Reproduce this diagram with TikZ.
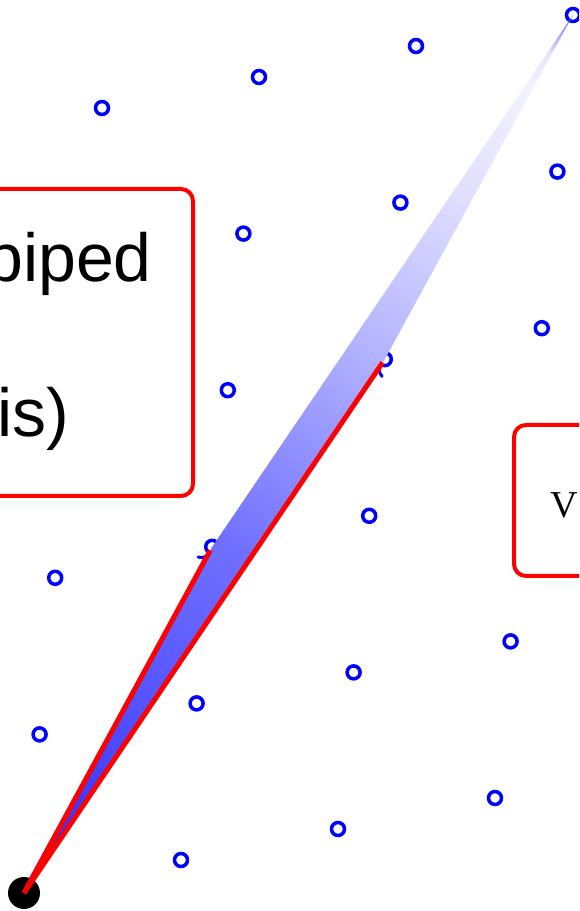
\documentclass[tikz,border=0pt]{standalone}
\usepackage{fontspec}
\newfontfamily\boxsans{Liberation Sans}
\newfontfamily\boxserif{Liberation Serif}
\usetikzlibrary{calc, arrows.meta}

% Colour ramp of the fundamental cell
\pgfdeclareverticalshading{cellShade}{100bp}{%
    color(0bp)=(blue!85); color(25bp)=(blue!85); color(35bp)=(blue!68);
    color(44.5bp)=(blue!56); color(56bp)=(blue!30); color(65bp)=(blue!12);
    color(71bp)=(blue!5); color(72.8bp)=(blue!10); color(75bp)=(blue!60);
    color(100bp)=(blue!60)}

\begin{document}
\begin{tikzpicture}[x=1pt, y=1pt]
    % Define colours
    \definecolor{pointColour}{HTML}{0000FF}
    \definecolor{basisColour}{HTML}{FF0000}
    \definecolor{boxColour}{HTML}{FF0000}

    % Define styles
    \tikzset{
        latpt/.style={circle, draw=pointColour, line width=3.5pt, minimum size=13pt, inner sep=0pt},
        vecArrow/.style={draw=pointColour, line width=3pt, -{To[length=9pt, width=18pt]}},
        basisVec/.style={draw=basisColour, line width=5pt},
        labelBox/.style={draw=boxColour, line width=4pt, rounded corners=12pt, fill=white, outer sep=0pt}
    }

    % Fix picture size
    \useasboundingbox (0,0) rectangle (579,911);
    \clip (0,0) rectangle (579,911);

    % Draw lattice points
    \begin{scope}[shift={(24,20)}, x={(157pt,31pt)}, y={(15.6pt,156.6pt)}]
        \coordinate (O) at (0,0);
        \coordinate (B1) at (1,2);
        \coordinate (B2) at (2,3);
        \coordinate (T) at (3,5);
        \foreach \a in {0,...,3}
            \foreach \b in {0,...,5}
            {
                \ifnum\a\b>0 \node[latpt] (p\a\b) at (\a,\b) {}; \fi
            }
    \end{scope}

    % Draw basis arrows
    \draw[vecArrow] (O) -- (p12);
    \draw[vecArrow] (O) -- (p23);

    % Shade the fundamental cell
    \coordinate (mid) at ($(O)!0.5!(T)$);
    \begin{scope}
        \clip (O) -- (B1) -- (T) -- (B2) -- cycle;
        \shade[shading=cellShade, shading angle=-32.05] ($(mid)+(-518,-518)$) rectangle ($(mid)+(518,518)$);
    \end{scope}

    % Draw origin and basis vectors
    \node[circle, fill=black, minimum size=32pt, inner sep=0pt] (origin) at ($(O)+(0,-2)$) {};
    \draw[basisVec, shorten >=4pt] (origin.center) -- (p12.center);
    \draw[basisVec, shorten >=4pt] (origin.center) -- (p23.center);

    % Draw label boxes
    \node[labelBox, minimum width=493pt, minimum height=307pt, anchor=north east] (cellBox) at (193,722) {};
    \node[font=\boxsans\fontsize{68}{80}\selectfont, anchor=base east, inner sep=0pt] (cellTextA) at (152,629) {parallelepiped};
    \node[font=\boxsans\fontsize{68}{80}\selectfont, anchor=base east, inner sep=0pt] (cellTextB) at (69.5,474) {basis)};

    \node[labelBox, minimum width=300pt, minimum height=151pt, anchor=north west] (volBox) at (514,486) {};
    \node[font=\boxserif\fontsize{38}{46}\selectfont, anchor=base west, inner sep=0pt] (volText) at (550,393) {V};
\end{tikzpicture}
\end{document}
